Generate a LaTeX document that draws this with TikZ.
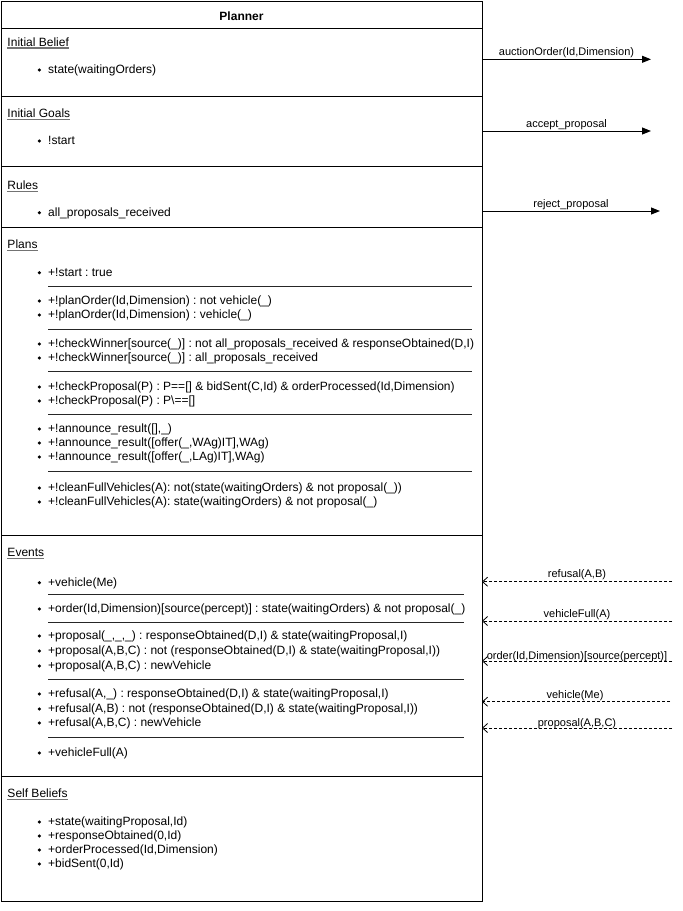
\documentclass[tikz,border=0pt]{standalone}
\usepackage{fontspec}
\setmainfont{Liberation Sans}
\usetikzlibrary{arrows.meta}
\tikzset{
  txt/.style={anchor=base west, inner sep=0pt, font=\fontsize{12}{14}\selectfont},
  ttl/.style={txt},
  hdr/.style={anchor=base, inner sep=0pt, font=\fontsize{12}{14}\selectfont\bfseries},
  lbl/.style={anchor=base, inner sep=0pt, font=\fontsize{11}{13}\selectfont},
  sepline/.style={line width=0.8pt, draw=black!85},
  uline/.style={line width=1.3pt, draw=black!55},
  frame/.style={line width=1pt},
  outarrow/.style={line width=1pt, -{Triangle[length=9pt,width=7pt]}},
  inarrow/.style={line width=0.7pt, dash pattern=on 3pt off 2pt, -{Straight Barb[length=5pt,width=9pt,line width=0.8pt]}},
}
\newcommand\blt[3]{\fill (39.4,{#2+1}) circle (1.7pt); \node[txt] (#1) at (48,{#2+4.3}) {#3};}
\newcommand\sectitle[3]{\node[ttl] (#1) at (7.3,{#2+4.3}) {#3};
  \draw[uline] ([yshift=-2pt]#1.base west) -- ([yshift=-2pt]#1.base east);}
\begin{document}
\frenchspacing
\begin{tikzpicture}[x=1pt,y=-1pt]
\useasboundingbox (0,0) rectangle (683,911);
% frame
\draw[frame] (1,1) rectangle (482,901);
\foreach \yy in {28,96,166,227.5,535.5,776} \draw[frame] (1,\yy) -- (482,\yy);
\node[hdr] (planner) at (241.5,20) {Planner};
% Initial Belief
\sectitle{ib}{41.7}{Initial Belief}
\blt{ib1}{69}{state(waitingOrders)}
% Initial Goals
\sectitle{ig}{113}{Initial Goals}
\blt{ig1}{140}{!start}
% Rules
\sectitle{ru}{185}{Rules}
\blt{ru1}{211.7}{all\_proposals\_received}
% Plans
\sectitle{pl}{244}{Plans}
\blt{p1}{271.7}{+!start : true}
\draw[sepline] (48,286) -- (472,286);
\blt{p2}{300}{+!planOrder(Id,Dimension) : not vehicle(\_)}
\blt{p3}{314}{+!planOrder(Id,Dimension) : vehicle(\_)}
\draw[sepline] (48,329) -- (472,329);
\blt{p4}{343}{+!checkWinner[source(\_)] : not all\_proposals\_received \& responseObtained(D,I)}
\blt{p5}{357}{+!checkWinner[source(\_)] : all\_proposals\_received}
\draw[sepline] (48,371) -- (472,371);
\blt{p6}{386}{+!checkProposal(P) : P==[] \& bidSent(C,Id) \& orderProcessed(Id,Dimension)}
\blt{p7}{400}{+!checkProposal(P) : P\textbackslash==[]}
\draw[sepline] (48,414) -- (472,414);
\blt{p8}{428}{+!announce\_result([],\_)}
\blt{p9}{442}{+!announce\_result([offer(\_,WAg)IT],WAg)}
\blt{p10}{456}{+!announce\_result([offer(\_,LAg)IT],WAg)}
\draw[sepline] (48,471) -- (472,471);
\blt{p11}{487}{+!cleanFullVehicles(A): not(state(waitingOrders) \& not proposal(\_))}
\blt{p12}{501}{+!cleanFullVehicles(A): state(waitingOrders) \& not proposal(\_)}
% Events
\sectitle{ev}{552}{Events}
\blt{e1}{581.7}{+vehicle(Me)}
\draw[sepline] (48,594) -- (464,594);
\blt{e2}{608}{+order(Id,Dimension)[source(percept)] : state(waitingOrders) \& not proposal(\_)}
\draw[sepline] (48,622) -- (464,622);
\blt{e3}{635}{+proposal(\_,\_,\_) : responseObtained(D,I) \& state(waitingProposal,I)}
\blt{e4}{650}{+proposal(A,B,C) : not (responseObtained(D,I) \& state(waitingProposal,I))}
\blt{e5}{665}{+proposal(A,B,C) : newVehicle}
\draw[sepline] (48,679) -- (464,679);
\blt{e6}{693}{+refusal(A,\_) : responseObtained(D,I) \& state(waitingProposal,I)}
\blt{e7}{708}{+refusal(A,B) : not (responseObtained(D,I) \& state(waitingProposal,I))}
\blt{e8}{722}{+refusal(A,B,C) : newVehicle}
\draw[sepline] (48,737) -- (464,737);
\blt{e9}{752}{+vehicleFull(A)}
% Self Beliefs
\sectitle{sb}{793}{Self Beliefs}
\blt{s1}{821}{+state(waitingProposal,Id)}
\blt{s2}{835}{+responseObtained(0,Id)}
\blt{s3}{849}{+orderProcessed(Id,Dimension)}
\blt{s4}{863}{+bidSent(0,Id)}
% outgoing messages
\coordinate (aoS) at (482,59.3);  \coordinate (aoE) at (651,59.3);
\coordinate (apS) at (482,131);   \coordinate (apE) at (651,131);
\coordinate (rpS) at (482,211);   \coordinate (rpE) at (660,211);
\draw[outarrow] (aoS) -- (aoE);
\draw[outarrow] (apS) -- (apE);
\draw[outarrow] (rpS) -- (rpE);
\node[lbl] (aoL) at (566.5,55.5) {auctionOrder(Id,Dimension)};
\node[lbl] (apL) at (566.5,127) {accept\_proposal};
\node[lbl] (rpL) at (571,207) {reject\_proposal};
% incoming messages
\coordinate (rfS) at (672,581.7); \coordinate (rfE) at (482,581.7);
\coordinate (vfS) at (672,621);   \coordinate (vfE) at (482,621);
\coordinate (orS) at (672,661);   \coordinate (orE) at (482,661);
\coordinate (vmS) at (670,701.7); \coordinate (vmE) at (482,701.7);
\coordinate (prS) at (672,728);   \coordinate (prE) at (482,728);
\draw[inarrow] (rfS) -- (rfE);
\draw[inarrow] (vfS) -- (vfE);
\draw[inarrow] (orS) -- (orE);
\draw[inarrow] (vmS) -- (vmE);
\draw[inarrow] (prS) -- (prE);
\node[lbl] (rfL) at (577,577) {refusal(A,B)};
\node[lbl] (vfL) at (577,617) {vehicleFull(A)};
\node[lbl] (orL) at (577,659) {order(Id,Dimension)[source(percept)]};
\node[lbl] (vmL) at (575,698) {vehicle(Me)};
\node[lbl] (prL) at (577,726) {proposal(A,B,C)};
\end{tikzpicture}
\end{document}
